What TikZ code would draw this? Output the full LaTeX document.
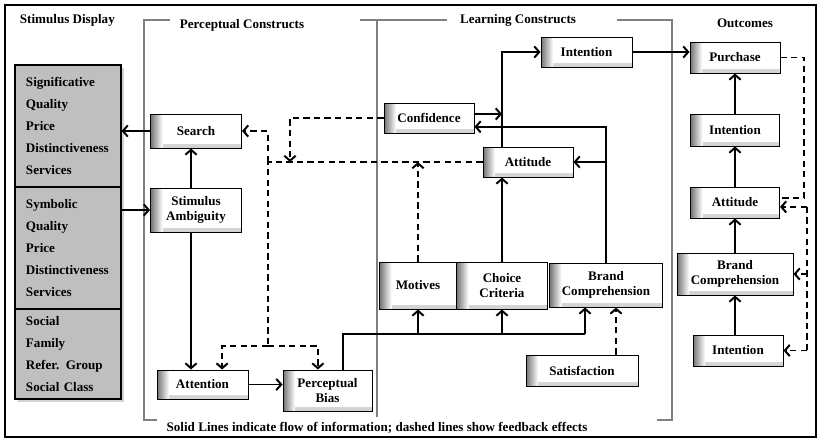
\documentclass[tikz,border=0pt]{standalone}
\usepackage{fontspec}
\setmainfont{Liberation Serif}
\usetikzlibrary{arrows.meta,shadows}

\begin{document}
\begin{tikzpicture}[x=0.025cm, y=-0.025cm,
		txt/.style={font=\bfseries\fontsize{9.3}{10.5}\selectfont},
		sz/.style 2 args={minimum width=#1*0.025cm, minimum height=#2*0.025cm},
		blk/.style={txt, draw, line width=0.7pt, fill=white, align=center, inner sep=1pt,
			path picture={
				\shade[top color=white, bottom color=black!18] ([yshift=0.1cm]path picture bounding box.south west) rectangle (path picture bounding box.south east);
				\shade[left color=black!55, right color=white] (path picture bounding box.south west) rectangle ([xshift=0.3cm]path picture bounding box.north west);
			}},
		stimbox/.style={draw, line width=0.8pt, fill=black!25, align=left, text width=2.1cm, inner xsep=0.275cm, font=\bfseries\fontsize{9.3}{15.6}\selectfont},
		arr/.style={line width=1.4pt, -{Straight Barb[length=3.5pt,width=8pt]}},
		fb/.style={line width=1.4pt, dash pattern=on 4.5pt off 3pt},
		bracket/.style={line width=2pt, color=black!50}]
			%%%%% START %%%%%
			
			\fill[white] (0,0) rectangle (822,443);
			\useasboundingbox (0,0) rectangle (822,443);
			\draw[line width=1.5pt] (5,5) rectangle (816,437);
			
			% brackets
			\draw[bracket] (170,20) -- (144,20) -- (144,420) -- (157,420);
			\draw[bracket] (360,20) -- (447,20);
			\draw[bracket] (377,20) -- (377,417);
			\draw[bracket] (617,20) -- (672,20) -- (672,420) -- (657,420);
			
			% headings
			\node[txt, anchor=west] (hstim) at (15,20) {Stimulus Display};
			\node[txt] (hperc) at (242,25) {Perceptual Constructs};
			\node[txt] (hlearn) at (518,20) {Learning Constructs};
			\node[txt] (hout) at (745,23) {Outcomes};
			\node[txt] (note) at (377,428) {Solid Lines indicate flow of information; dashed lines show feedback effects};
			
			% stimulus display
			\path[fill=black!25, drop shadow={opacity=0.35, shadow xshift=2pt, shadow yshift=-2pt}] (15,65) rectangle (121,399);
			\node[stimbox, sz={106}{122}] (sig) at (68,126) {Significative\\Quality\\Price\\Distinctiveness\\Services};
			\node[stimbox, sz={106}{122}] (sym) at (68,248) {Symbolic\\Quality\\Price\\Distinctiveness\\Services};
			\node[stimbox, sz={106}{90}] (soc) at (68,354) {Social\\Family\\Refer. Group\\Social Class};
			
			% perceptual constructs
			\node[blk, sz={91}{34}] (search) at (196,131) {Search};
			\node[blk, sz={91}{44}] (ambig) at (196,210) {Stimulus\\Ambiguity};
			\node[blk, sz={91}{29}] (attn) at (202.5,384.5) {Attention};
			\node[blk, sz={89}{41}] (pbias) at (327.5,390.5) {Perceptual\\Bias};
			
			% learning constructs
			\node[blk, sz={90}{30}] (conf) at (429,118) {Confidence};
			\node[blk, sz={91}{30}] (lint) at (586.5,52) {Intention};
			\node[blk, sz={90}{30}] (latt) at (528,162) {Attitude};
			\node[blk, sz={77}{47}] (motiv) at (418,285.5) {Motives};
			\node[blk, sz={91}{47}] (choice) at (502,285.5) {Choice\\Criteria};
			\node[blk, sz={113}{44}] (lbrand) at (606,285) {Brand\\Comprehension};
			\node[blk, sz={112}{31}] (satis) at (582,370.5) {Satisfaction};
			
			% outcomes
			\node[blk, sz={90}{31}] (purch) at (735,57.5) {Purchase};
			\node[blk, sz={89}{32}] (oint) at (735,130) {Intention};
			\node[blk, sz={89}{31}] (oatt) at (735,202.5) {Attitude};
			\node[blk, sz={116}{42}] (obrand) at (735,274) {Brand\\Comprehension};
			\node[blk, sz={90}{31}] (oint2) at (738,350.5) {Intention};
			
			% information flow
			\coordinate (ambx) at ([xshift=-0.125cm]ambig.north);
			\coordinate (amby) at ([xshift=-0.125cm]ambig.south);
			\draw[arr] (search.west) -- (search.west -| sig.east);
			\draw[arr] (ambig.west -| sym.east) -- (ambig.west);
			\draw[arr] (ambx) -- (ambx |- search.south);
			\draw[arr] (amby) -- (amby |- attn.north);
			\draw[arr] (attn.east) -- (attn.east -| pbias.west);
			
			\coordinate (pbout) at ([xshift=0.39cm]pbias.north);
			\coordinate (bus) at (585,334);
			\draw[line width=1.4pt] (pbout) |- (bus);
			\draw[arr] (bus) -- (bus |- lbrand.south);
			\draw[arr] (motiv.south |- bus) -- (motiv.south);
			\draw[arr] (choice.south |- bus) -- (choice.south);
			\draw[arr] (choice.north) -- (choice.north |- latt.south);
			\draw[arr] (choice.north |- latt.north) |- (lint.west);
			
			\coordinate (confout) at ([yshift=0.1cm]conf.east);
			\coordinate (confin) at ([yshift=-0.22cm]conf.east);
			\draw[arr] (confout) -- (confout -| choice.north);
			\draw[arr] (lbrand.north) |- (confin);
			\draw[arr] (lbrand.north |- latt.east) -- (latt.east);
			\draw[arr] (lint.east) -- (lint.east -| purch.west);
			
			\draw[arr] (oint2.north -| obrand.south) -- (obrand.south);
			\draw[arr] (obrand.north) -- (oatt.south);
			\draw[arr] (oatt.north) -- (oint.south);
			\draw[arr] (oint.north) -- (purch.south);
			
			% feedback
			\coordinate (fbl) at (268,346);
			\draw[fb] (latt.west) -| (fbl);
			\draw[fb, arr] (latt.west -| fbl) |- (search.east);
			\draw[fb, arr] (fbl) -| ([xshift=0.49cm]attn.north);
			\draw[fb, arr] (fbl) -| ([xshift=-0.24cm]pbias.north);
			\coordinate (cfb) at (290,162);
			\draw[fb, arr] (conf.west) -| (cfb);
			\draw[fb, arr] (motiv.north) -- (motiv.north |- latt.west);
			\coordinate (satout) at ([xshift=0.85cm]satis.north);
			\draw[fb, arr] (satout) -- (satout |- lbrand.south);
			
			\coordinate (oattup) at ([yshift=0.11cm]oatt.east);
			\coordinate (oattin) at ([yshift=-0.11cm]oatt.east);
			\coordinate (fbr) at (804,0);
			\coordinate (fbr2) at (807,352);
			\draw[fb] (purch.east) -| (fbr |- oattup) -- (oattup);
			\draw[fb] (fbr2 |- oattin) -- (fbr2);
			\draw[fb, arr] (fbr2 |- oattin) -- (oattin);
			\draw[fb, arr] (fbr2 |- obrand.east) -- (obrand.east);
			\draw[fb, arr] (fbr2 |- oint2.east) -- (oint2.east);
			
			%%%%% END %%%%%
\end{tikzpicture}
\end{document}
